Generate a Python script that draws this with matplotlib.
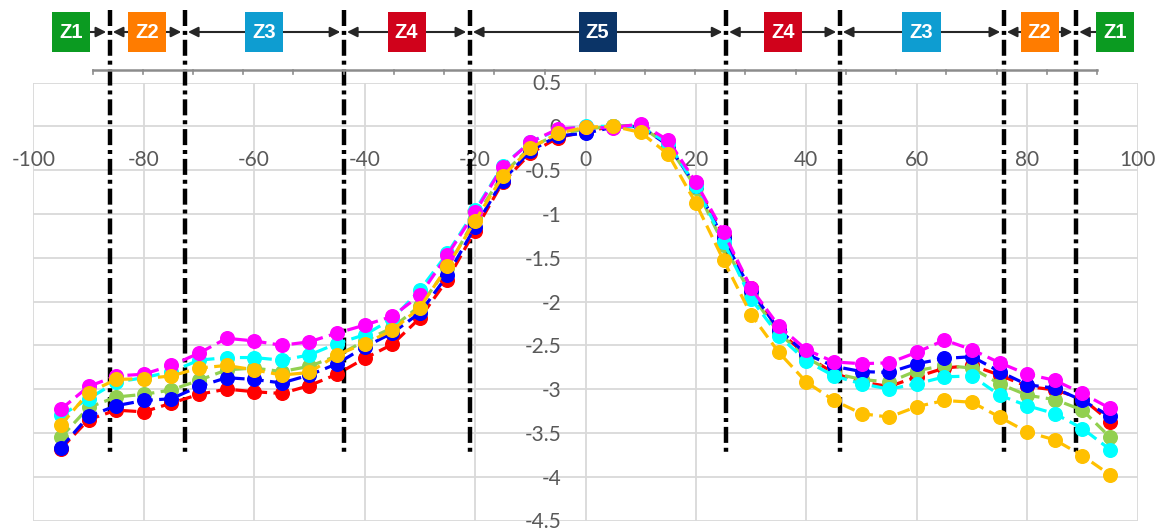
import numpy as np
import matplotlib
matplotlib.use("Agg")
import matplotlib.pyplot as plt
from matplotlib.patches import Rectangle
from matplotlib.transforms import blended_transform_factory

# Profile positions (shared by every series)
x = list(range(-95, 100, 5))

red = [-3.68, -3.35, -3.24, -3.26, -3.16, -3.06, -3.00, -3.03, -3.05, -2.96,
       -2.83, -2.65, -2.49, -2.19, -1.75, -1.19, -0.64, -0.31, -0.13, -0.06,
       0.00, 0.01, -0.20, -0.65, -1.25, -1.85, -2.33, -2.62, -2.82, -2.92,
       -2.97, -2.86, -2.76, -2.73, -2.84, -2.97, -3.01, -3.11, -3.37]
blue = [-3.67, -3.31, -3.19, -3.13, -3.11, -2.97, -2.87, -2.89, -2.93, -2.84,
        -2.71, -2.52, -2.36, -2.13, -1.70, -1.15, -0.62, -0.28, -0.11, -0.08,
        -0.01, 0.00, -0.22, -0.68, -1.28, -1.88, -2.32, -2.60, -2.74, -2.80,
        -2.81, -2.71, -2.65, -2.63, -2.80, -2.95, -2.99, -3.13, -3.31]
green = [-3.55, -3.21, -3.09, -3.06, -3.01, -2.90, -2.78, -2.76, -2.80, -2.74,
         -2.62, -2.45, -2.30, -2.05, -1.62, -1.05, -0.55, -0.24, -0.09, -0.03,
         0.00, 0.00, -0.22, -0.70, -1.35, -1.92, -2.36, -2.64, -2.82, -2.89,
         -2.92, -2.79, -2.73, -2.76, -2.94, -3.07, -3.12, -3.24, -3.55]
cyan = [-3.30, -3.11, -2.92, -2.87, -2.80, -2.67, -2.64, -2.64, -2.67, -2.61,
        -2.48, -2.38, -2.20, -1.87, -1.45, -0.96, -0.45, -0.18, -0.04, 0.00,
        0.00, 0.00, -0.20, -0.68, -1.32, -1.97, -2.39, -2.68, -2.85, -2.94,
        -3.00, -2.94, -2.86, -2.85, -3.07, -3.19, -3.28, -3.45, -3.69]
magenta = [-3.23, -2.97, -2.85, -2.83, -2.73, -2.59, -2.42, -2.45, -2.50, -2.46,
           -2.36, -2.27, -2.17, -1.93, -1.47, -0.98, -0.46, -0.18, -0.03, -0.01,
           -0.02, 0.03, -0.16, -0.64, -1.21, -1.85, -2.28, -2.55, -2.69, -2.71,
           -2.70, -2.58, -2.44, -2.55, -2.70, -2.83, -2.90, -3.05, -3.22]
orange = [-3.41, -3.04, -2.89, -2.88, -2.85, -2.76, -2.73, -2.78, -2.84, -2.81,
          -2.61, -2.48, -2.33, -2.07, -1.60, -1.08, -0.57, -0.25, -0.08, -0.01,
          0.00, -0.07, -0.32, -0.88, -1.53, -2.15, -2.58, -2.92, -3.13, -3.28,
          -3.32, -3.20, -3.13, -3.15, -3.32, -3.49, -3.58, -3.76, -3.98]

# Zone boundaries and zone names (left to right)
zone_bounds = [-86.2, -72.6, -43.8, -21.0, 25.4, 46.0, 75.7, 88.8]
zone_labels = ["Z1", "Z2", "Z3", "Z4", "Z5", "Z4", "Z3", "Z2", "Z1"]

x_ticks = list(range(-100, 101, 20))
y_ticks = [0.5, 0, -0.5, -1, -1.5, -2, -2.5, -3, -3.5, -4, -4.5]
y_tick_labels = ["0.5", "0", "-0.5", "-1", "-1.5", "-2", "-2.5", "-3", "-3.5", "-4", "-4.5"]

zone_colors = {"Z1": "#0B9B21", "Z2": "#FF7C00", "Z3": "#0E9DD1",
               "Z4": "#D0021B", "Z5": "#0B3467"}

W, H = 1157, 528
fig = plt.figure(figsize=(W / 100, H / 100), dpi=100)
ax = fig.add_axes([33.3 / W, 1 - 520.5 / H, 1104.4 / W, 438 / H])
ax.set_xlim(-100, 100)
ax.set_ylim(-4.5, 0.5)

ax.set_xticks(x_ticks)
ax.set_xticklabels([str(v) for v in x_ticks])
ax.set_yticks(y_ticks)
ax.set_yticklabels(y_tick_labels)
ax.grid(True, color="#D9D9D9", lw=1.3)
ax.set_axisbelow(True)
for sp in ax.spines.values():
    sp.set_visible(False)
ax.spines["left"].set_position(("data", 0))
ax.spines["bottom"].set_position(("data", 0))
ax.tick_params(axis="both", length=0, labelsize=15, labelcolor="#595959")
ax.tick_params(axis="x", pad=17)
ax.tick_params(axis="y", pad=17)
for lab in ax.get_xticklabels() + ax.get_yticklabels():
    lab.set_fontfamily("Lato")

# Zone boundary lines spanning the chart and the zone band above it
blend = blended_transform_factory(ax.transData, fig.transFigure)
y_line_top = 1 - 10 / H
y_line_bot = 1 - 455 / H
for xb in zone_bounds:
    ax.plot([xb, xb], [y_line_top, y_line_bot], transform=blend, color="black",
            lw=3.2, dashes=(3.6, 1.1, 0.9, 1.1), solid_capstyle="butt",
            dash_capstyle="butt", clip_on=False, zorder=1.5)

# Measurement series
series = [(red, "#FF0000"), (green, "#92D050"), (blue, "#0000FF"),
          (cyan, "#00FFFF"), (magenta, "#FF00FF"), (orange, "#FFC000")]
for vals, col in series:
    ax.plot(x, vals, color=col, lw=2.3, dashes=(4, 2), marker="o",
            markersize=9.8, markerfacecolor=col, markeredgecolor=col, zorder=3)

# Gray ruler under the zone band
ruler_y = 1 - 70 / H
x0_px, x1_px = 92.6, 1097
fig.add_artist(plt.Line2D([x0_px / W, x1_px / W], [ruler_y, ruler_y],
                          color="#8C8C8C", lw=1.8, transform=fig.transFigure))
for px in np.linspace(x0_px, x1_px, 21):
    fig.add_artist(plt.Line2D([px / W, px / W], [ruler_y, ruler_y - 4 / H],
                              color="#8C8C8C", lw=1.2, transform=fig.transFigure))

# Zone boxes with arrows pointing to the boundaries
edges = [-100.0 + 3.3] + zone_bounds + [100.0 - 0.8]
box_w = 6.9
box_h = 40 / H
band_y = 1 - 32 / H
gap = 0.6
for i, lab in enumerate(zone_labels):
    left, right = edges[i], edges[i + 1]
    if i == 0:
        cx = -93.2
    elif i == len(zone_labels) - 1:
        cx = 95.9
    else:
        cx = (left + right) / 2
    if i > 0:
        ax.annotate("", xy=(left + gap, band_y), xytext=(cx - box_w / 2, band_y),
                    xycoords=blend, textcoords=blend, annotation_clip=False,
                    arrowprops=dict(arrowstyle="-|>", color="#262626", lw=1.5,
                                    mutation_scale=15, shrinkA=0, shrinkB=0))
    if i < len(zone_labels) - 1:
        ax.annotate("", xy=(right - gap, band_y), xytext=(cx + box_w / 2, band_y),
                    xycoords=blend, textcoords=blend, annotation_clip=False,
                    arrowprops=dict(arrowstyle="-|>", color="#262626", lw=1.5,
                                    mutation_scale=15, shrinkA=0, shrinkB=0))
    ax.add_patch(Rectangle((cx - box_w / 2, band_y - box_h / 2), box_w, box_h,
                           transform=blend, facecolor=zone_colors[lab],
                           edgecolor="none", clip_on=False, zorder=5))
    ax.text(cx, band_y, lab, transform=blend, ha="center", va="center",
            color="white", fontsize=14.5, fontweight="bold",
            fontfamily="Liberation Sans", zorder=6, clip_on=False)

fig.savefig("out.png", dpi=100)
